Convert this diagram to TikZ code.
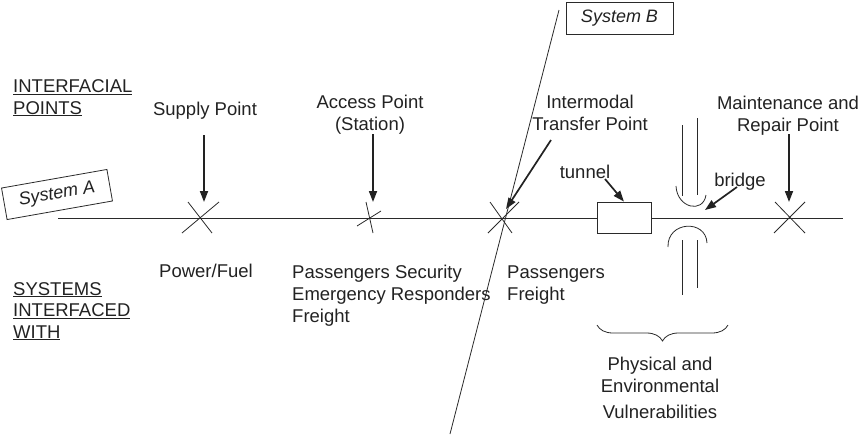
\documentclass[tikz,border=0pt]{standalone}
\usepackage{fontspec}
\setmainfont{Liberation Sans}
\usetikzlibrary{arrows.meta,decorations.pathreplacing}
\definecolor{ink}{HTML}{222222}
\definecolor{wire}{HTML}{2A2A2A}
\begin{document}
\begin{tikzpicture}[x=1pt,y=-1pt,
  wirestyle/.style={line width=0.8pt,draw=wire},
  ptr/.style={line width=1.7pt,draw=ink,-{Triangle[length=11pt,width=8pt]}},
  lbl/.style={font=\fontsize{18.5}{21.5}\selectfont,text=ink,inner sep=0pt,align=center},
  lbll/.style={lbl,align=left},
  sysbox/.style={draw=wire,line width=0.8pt,fill=white,inner sep=0pt,
    font=\fontsize{18}{21}\selectfont\itshape,text=ink}]
\useasboundingbox (0,0) rectangle (865,445);

% ---- the main line of System A and its interface points
\coordinate (lineL) at (58,218);
\coordinate (lineR) at (843,218);
\coordinate (xs) at (200,218);
\coordinate (xa) at (369,218);
\coordinate (xi) at (503,218);
\coordinate (xm) at (789,218);
\draw[wirestyle] (lineL) -- (lineR);

% crosses marking each point
\draw[wirestyle] ([shift={(-18,15)}]xs) -- ([shift={(19,-16)}]xs)
                 ([shift={(-12,-16)}]xs) -- ([shift={(12,15)}]xs);
\draw[wirestyle] ([shift={(-12,8)}]xa) -- ([shift={(12,-7)}]xa)
                 ([shift={(-3,-16)}]xa) -- ([shift={(4,15)}]xa);
\draw[wirestyle] ([shift={(-15,15)}]xi) -- ([shift={(16,-16)}]xi)
                 ([shift={(-13,-16)}]xi) -- ([shift={(9,15)}]xi);
\draw[wirestyle] ([shift={(-15,15)}]xm) -- ([shift={(16,-16)}]xm)
                 ([shift={(-14,-16)}]xm) -- ([shift={(16,15)}]xm);

% System B crossing line
\coordinate (bTop) at (559,10);
\coordinate (bBot) at (450,434);
\draw[wirestyle] (bTop) -- (bBot);

% system labels
\node[sysbox,minimum width=107pt,minimum height=32pt] (sysB) at (619.5,18) {System B};
\node[sysbox,minimum width=107pt,minimum height=32pt,rotate=10] (sysA) at (57,194.5) {System A};

% tunnel
\node[draw=wire,line width=0.8pt,fill=white,minimum width=54pt,minimum height=31pt,inner sep=0pt] (tunnel) at (624,217.5) {};
\node[lbl,anchor=base] (tunnelT) at (585,178) {tunnel};

% bridge: two pillars with arched ends
\coordinate (bu1) at (682,125); \coordinate (bu1e) at (682,196);
\coordinate (bu2) at (697,118); \coordinate (bu2e) at (697,195);
\coordinate (bl1) at (682,240); \coordinate (bl1e) at (682,295);
\coordinate (bl2) at (697,240); \coordinate (bl2e) at (697,288);
\draw[wirestyle] (bu1) -- (bu1e) (bu2) -- (bu2e) (bl1) -- (bl1e) (bl2) -- (bl2e);
\coordinate (ua) at (676,186); \coordinate (ub) at (706,195);
\coordinate (la) at (668,247); \coordinate (lb) at (707,243);
\draw[wirestyle] (ua) .. controls (677,208) and (703,214) .. (ub);
\draw[wirestyle] (la) .. controls (667,221) and (706,219) .. (lb);
\node[lbl,anchor=base] (bridgeT) at (740,186) {bridge};
\coordinate (bridgeTip) at (705,210);

% ---- headings (base anchor sits on the last line)
\node[lbll,anchor=base west] (hd1) at (13,114) {\underline{INTERFACIAL}\\\underline{POINTS}};
\node[lbll,anchor=base west] (hd2) at (13,338) {\underline{SYSTEMS}\\\underline{INTERFACED}\\\underline{WITH}};

% ---- interfacial points (above the line)
\node[lbl,anchor=base] (supply) at (205,115) {Supply Point};
\node[lbl,anchor=base] (access) at (370,130) {Access Point\\(Station)};
\node[lbl,anchor=base] (inter) at (590,130) {Intermodal\\Transfer Point};
\node[lbl,anchor=base] (maint) at (788,131) {Maintenance and\\Repair Point};

\coordinate (supplyTail) at (204,135);
\coordinate (accessTail) at (373,134);
\coordinate (interTail) at (551,140);
\coordinate (maintTail) at (789,134);
\coordinate (tunnelTail) at (605,179);
\coordinate (bridgeTail) at (737,187);
\draw[ptr] (supplyTail) -- ([shift={(4,-16)}]xs);
\draw[ptr] (accessTail) -- ([shift={(4,-16)}]xa);
\draw[ptr] (interTail) -- ([shift={(3,-9)}]xi);
\draw[ptr] (maintTail) -- ([shift={(0,-16)}]xm);
\draw[ptr] (tunnelTail) -- (tunnel.north);
\draw[ptr] (bridgeTail) -- (bridgeTip);

% ---- systems interfaced with (below the line)
\node[lbl,anchor=base] (power) at (206,277) {Power/Fuel};
\node[lbll,anchor=base west,font=\fontsize{18.5}{22}\selectfont] (pass1) at (292,322) {Passengers Security\\Emergency Responders\\Freight};
\node[lbll,anchor=base west,font=\fontsize{18.5}{22}\selectfont] (pass2) at (507,300) {Passengers\\Freight};

% vulnerabilities brace
\coordinate (brL) at (597,325);
\coordinate (brR) at (728,325);
\draw[wirestyle,decorate,decoration={brace,mirror,amplitude=16pt}] (brL) -- (brR);
\node[lbl,anchor=base,font=\fontsize{18.5}{22}\selectfont] (phys) at (660,392) {Physical and\\Environmental};
\node[lbl,anchor=base] (vuln) at (660,418) {Vulnerabilities};
\end{tikzpicture}
\end{document}
